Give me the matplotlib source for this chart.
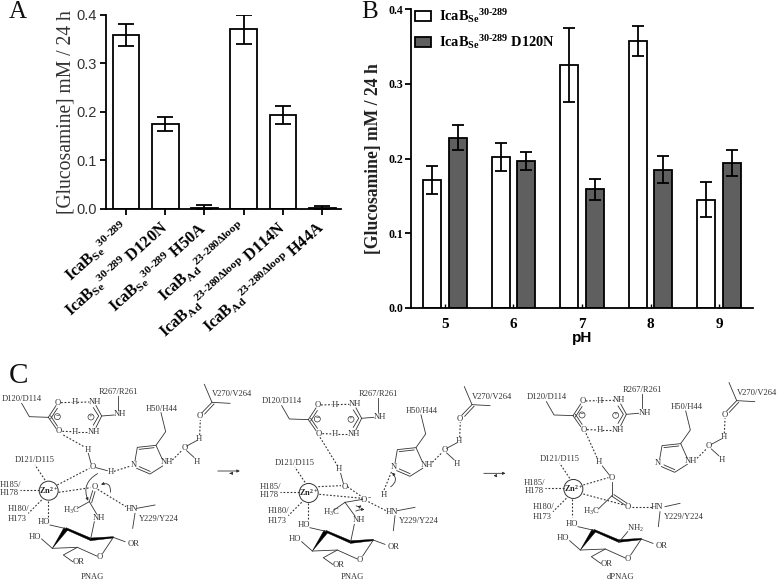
import matplotlib
matplotlib.use("Agg")
import matplotlib.pyplot as plt
from matplotlib.patches import Circle, FancyArrowPatch, Patch, Polygon

W, H = 778, 580
plt.rcParams["font.family"] = ["Liberation Serif", "DejaVu Sans"]
plt.rcParams["mathtext.fontset"] = "custom"
plt.rcParams["mathtext.rm"] = "Liberation Serif"
plt.rcParams["mathtext.default"] = "regular"

# panel A
a_labels = [r"IcaB$_{Se}$$^{30\text{-}289}$",
            r"IcaB$_{Se}$$^{30\text{-}289}$ D120N",
            r"IcaB$_{Se}$$^{30\text{-}289}$ H50A",
            r"IcaB$_{Ad}$$^{23\text{-}280\Delta loop}$",
            r"IcaB$_{Ad}$$^{23\text{-}280\Delta loop}$ D114N",
            r"IcaB$_{Ad}$$^{23\text{-}280\Delta loop}$ H44A"]
a_vals = [0.358, 0.175, 0.003, 0.370, 0.193, 0.002]
a_err = [0.023, 0.015, 0.006, 0.030, 0.019, 0.005]

# panel B
ph = ["5", "6", "7", "8", "9"]
wt_vals = [0.171, 0.202, 0.325, 0.357, 0.145]
wt_err = [0.019, 0.019, 0.049, 0.020, 0.023]
mut_vals = [0.228, 0.197, 0.159, 0.185, 0.194]
mut_err = [0.017, 0.012, 0.014, 0.018, 0.018]
y_ticks = [0.0, 0.1, 0.2, 0.3, 0.4]

# panel C, scheme geometry in 3x zoom units of the first structure
upper_solid = [
    [(65, 190), (88, 230), (145, 232)],
    [(145, 232), (168, 197)], [(152, 236), (172, 205)],
    [(145, 232), (168, 265)], [(152, 228), (172, 258)],
    [(288, 197), (305, 228), (288, 262)], [(280, 203), (296, 228), (280, 255)],
    [(305, 228), (342, 225)], [(353, 168), (353, 210)],
    [(405, 362), (412, 322), (468, 316), (487, 358)], [(418, 328), (462, 323)],
    [(468, 316), (497, 275), (483, 218)],
    [(410, 385), (450, 402), (488, 378)], [(418, 380), (450, 394)],
    [(560, 318), (590, 302)], [(560, 332), (582, 352)],
    [(606, 218), (636, 187)], [(614, 222), (642, 192)],
    [(613, 133), (636, 187), (690, 190)],
]
upper_dashed = [
    [(183, 188), (217, 187)], [(232, 187), (268, 186)],
    [(187, 274), (217, 275)], [(233, 275), (265, 275)],
    [(517, 360), (545, 332)], [(599, 285), (601, 240)],
    [(135, 420), (105, 375)], [(118, 450), (60, 450)],
    [(125, 480), (85, 520)], [(143, 482), (143, 535)],
]
upper_text = [
    ("D120/D114", 65, 176), ("R267/R261", 354, 156), ("H50/H44", 486, 206),
    ("V270/V264", 696, 163), ("O", 173, 188), ("H", 225, 187), ("NH", 284, 185),
    ("NH", 361, 223), ("O", 177, 274), ("H", 226, 275), ("NH", 281, 275),
    ("NH", 500, 367), ("O", 553, 323), ("H", 590, 365), ("H", 598, 297),
    ("O", 600, 229), ("N", 400, 375), ("D121/D115", 105, 361), ("H185/", 30, 434),
    ("H178", 28, 459), ("H180/", 55, 507), ("H173", 52, 536),
]
signs = [("−", 172, 230), ("+", 273, 231)]
zn = (146, 452)
ring_solid = [
    [(150, 555), (198, 566)], [(340, 592), (375, 605)], [(340, 592), (308, 640)],
    [(290, 648), (232, 622), (157, 625)], [(157, 625), (125, 597)],
    [(232, 622), (190, 645), (218, 665)],
]
ring_wedges = [
    [(157, 625), (192, 563), (204, 569)],
    [(198, 563), (198, 569), (272, 602), (272, 594)],
    [(272, 594), (272, 602), (340, 594), (340, 590)],
]
ring_text = [("HO", 132, 547), ("HO", 104, 590), ("OR", 400, 612), ("O", 300, 652), ("OR", 236, 666)]

# parts that differ between the three structures, each in its own zoom crop units
s1_solid = [[(265, 340), (273, 370)], [(288, 383), (322, 392)],
            [(268, 485), (232, 505)], [(268, 485), (290, 522)],
            [(268, 485), (278, 452)], [(275, 488), (285, 455)], [(283, 545), (272, 597)],
            [(410, 505), (465, 495)], [(405, 520), (398, 565)]]
s1_dashed = [[(190, 285), (252, 320)], [(342, 394), (392, 378)],
             [(172, 435), (268, 385)], [(176, 457), (272, 443)], [(293, 448), (378, 500)]]
s1_text = [("H", 263, 330), ("O", 278, 381), ("H", 332, 396), ("O", 283, 441),
           ("H$_3$C", 215, 510), ("NH", 298, 534), ("HN", 395, 508),
           ("Y229/Y224", 477, 536), ("PNAG", 278, 710)]
s1_curves = [((300, 397), (268, 490), 0.5), ((330, 465), (295, 436), 0.9)]
s1_eq = [((645, 393), (728, 393)), ((700, 400), (680, 400))]

s2_solid = [[(242, 400), (250, 430)], [(255, 487), (222, 510)], [(255, 487), (285, 528)],
            [(255, 487), (308, 478)], [(283, 553), (272, 605)],
            [(412, 512), (465, 502)], [(405, 527), (400, 572)]]
s2_dashed = [[(180, 292), (233, 378)], [(175, 440), (243, 437)], [(178, 463), (308, 475)],
             [(325, 485), (378, 512)], [(372, 450), (396, 392)], [(262, 440), (305, 470)]]
s2_text = [("H", 238, 388), ("O", 253, 442), ("O$^-$", 320, 476), ("H", 372, 466),
           ("H$_3$C", 215, 517), ("NH", 298, 541), ("HN", 395, 515),
           ("Y229/Y224", 477, 543), ("PNAG", 278, 710)]
s2_curves = [((385, 445), (390, 392), 0.7), ((282, 492), (310, 490), 0.6), ((280, 517), (322, 510), -0.2)]
s2_eq = [((663, 400), (745, 400)), ((715, 407), (692, 407))]

s3_solid = [[(277, 378), (298, 405)], [(305, 425), (305, 468)], [(305, 468), (265, 507)],
            [(305, 468), (345, 495)], [(312, 464), (350, 489)], [(353, 575), (328, 605)],
            [(465, 500), (510, 490)], [(450, 515), (445, 560)]]
s3_dashed = [[(228, 280), (262, 355)], [(220, 435), (295, 413)], [(220, 462), (342, 495)],
             [(365, 500), (425, 500)]]
s3_text = [("H", 267, 366), ("O", 304, 415), ("O", 353, 500), ("HN", 440, 500),
           ("H$_3$C", 245, 513), ("NH$_2$", 377, 565), ("Y229/Y224", 522, 532),
           ("dPNAG", 332, 711)]


def px_axes(fig, left, right, top, bottom):
    return fig.add_axes([left / W, 1 - bottom / H, (right - left) / W, (bottom - top) / H])


def style_axes(ax):
    for s in ("top", "right"):
        ax.spines[s].set_visible(False)
    for s in ("left", "bottom"):
        ax.spines[s].set_linewidth(1.3)


def draw_lines(ax, lines, ox, oy, dashed=False):
    for pts in lines:
        xs = [ox + p[0] / 3 for p in pts]
        ys = [oy + p[1] / 3 for p in pts]
        ax.plot(xs, ys, color="#333333", lw=0.8 if dashed else 0.6,
                ls=(0, (1.6, 1.6)) if dashed else "-")


def draw_text(ax, items, ox, oy, size=6.1):
    for s, x, y in items:
        ax.text(ox + x / 3, oy + y / 3, s, fontsize=size, ha="center", va="center",
                color="#333333")


def draw_common(ax, ox, oy, rx, ry):
    draw_lines(ax, upper_solid, ox, oy)
    draw_lines(ax, upper_dashed, ox, oy, dashed=True)
    draw_text(ax, upper_text, ox, oy)
    for s, x, y in signs:
        ax.add_patch(Circle((ox + x / 3, oy + y / 3), 3, fc="none", ec="#333333", lw=0.5))
        ax.text(ox + x / 3, oy + y / 3, s, fontsize=5, ha="center", va="center", color="#333333")
    ax.add_patch(Circle((ox + zn[0] / 3, oy + zn[1] / 3), 9.5, fc="none", ec="#333333", lw=0.7))
    ax.text(ox + zn[0] / 3, oy + zn[1] / 3, "Zn$^{2+}$", fontsize=6, weight="bold",
            ha="center", va="center", color="#222222")
    draw_lines(ax, ring_solid, rx, ry)
    draw_text(ax, ring_text, rx, ry)
    for pts in ring_wedges:
        ax.add_patch(Polygon([(rx + p[0] / 3, ry + p[1] / 3) for p in pts], fc="black", ec="black", lw=0.3))


def draw_curves(ax, curves, ox, oy):
    for a, b, rad in curves:
        ax.add_patch(FancyArrowPatch((ox + a[0] / 3, oy + a[1] / 3), (ox + b[0] / 3, oy + b[1] / 3),
                                     connectionstyle=f"arc3,rad={rad}", arrowstyle="-|>",
                                     mutation_scale=4, lw=0.6, color="#333333"))


def draw_eq(ax, arrows, ox, oy):
    for a, b in arrows:
        ax.add_patch(FancyArrowPatch((ox + a[0] / 3, oy + a[1] / 3), (ox + b[0] / 3, oy + b[1] / 3),
                                     arrowstyle="-|>", mutation_scale=4, lw=0.6, color="#333333"))


fig = plt.figure(figsize=(W / 100, H / 100), dpi=100)

# ── A ──
ax = px_axes(fig, 106, 341, 14.5, 209)
style_axes(ax)
ax.bar(range(6), a_vals, width=0.68, color="white", edgecolor="black", lw=1.3,
       yerr=a_err, ecolor="black", capsize=5.5, error_kw=dict(elinewidth=1.3, capthick=1.3))
ax.set_xlim(-0.51, 5.48)
ax.set_ylim(0, 0.4)
ax.set_yticks(y_ticks)
ax.set_yticklabels([f"{v:.1f}" for v in y_ticks], family="Liberation Sans", fontsize=10.5, color="#333333")
ax.set_xticks(range(6))
ax.set_xticklabels(a_labels, rotation=42, ha="right", va="center", rotation_mode="anchor",
                   fontsize=11.8, weight="bold")
ax.tick_params(axis="y", width=1.3, length=4.5, pad=2)
ax.tick_params(axis="x", width=1.3, length=4.5, pad=7)
ax.set_ylabel("[Glucosamine] mM / 24 h", fontsize=14.1, labelpad=1, color="#333333")

# ── B ──
ax = px_axes(fig, 411, 753, 9, 308)
style_axes(ax)
xs = range(len(ph))
ax.bar([x - 0.187 for x in xs], wt_vals, width=0.26, color="white", edgecolor="black", lw=1.3,
       yerr=wt_err, ecolor="black", capsize=4, error_kw=dict(elinewidth=1.3, capthick=1.3))
ax.bar([x + 0.187 for x in xs], mut_vals, width=0.26, color="#5f5f5f", edgecolor="black", lw=1.3,
       yerr=mut_err, ecolor="black", capsize=4, error_kw=dict(elinewidth=1.3, capthick=1.3))
ax.set_xlim(-0.496, 4.496)
ax.set_ylim(0, 0.4)
ax.set_yticks(y_ticks)
ax.set_yticklabels([f"{v:.1f}" for v in y_ticks], weight="bold", fontsize=8.5)
ax.set_xticks(list(xs))
ax.set_xticklabels(ph, weight="bold", fontsize=11)
ax.tick_params(axis="y", width=1.3, length=4, pad=1.5)
ax.tick_params(axis="x", direction="in", width=1.0, length=3, pad=7)
ax.set_xlabel("pH", family="Liberation Sans", weight="bold", fontsize=11, labelpad=0)
ax.set_ylabel("[Glucosamine] mM / 24 h", weight="bold", fontsize=12.7, labelpad=5, color="#222222")
ax.legend(handles=[Patch(fc="white", ec="black", lw=1.3, label=r"IcaB$_{Se}$$^{30\text{-}289}$"),
                   Patch(fc="#5f5f5f", ec="black", lw=1.3, label=r"IcaB$_{Se}$$^{30\text{-}289}$ D120N")],
          loc="upper left", bbox_to_anchor=(0.0, 1.02), frameon=False, prop=dict(weight="bold", size=10.4),
          handlelength=1.1, handleheight=0.7, handletextpad=0.55, labelspacing=0.55, borderaxespad=0.1,
          borderpad=0.2)

# ── C and panel letters, on one overlay in pixel units ──
ov = fig.add_axes([0, 0, 1, 1])
ov.set_xlim(0, W)
ov.set_ylim(H, 0)
ov.axis("off")
ov.patch.set_alpha(0)
ov.text(9, 12, "A", fontsize=18, va="center", ha="left", color="#111111")
ov.text(361, 12, "B", fontsize=18, va="center", ha="left", color="#111111")
ov.text(9, 376, "C", fontsize=21, va="center", ha="left", color="#111111")

draw_common(ov, 0, 340, 0, 340)
draw_lines(ov, s1_solid, 0, 340)
draw_lines(ov, s1_dashed, 0, 340, dashed=True)
draw_text(ov, s1_text, 0, 340)
draw_curves(ov, s1_curves, 0, 340)
draw_eq(ov, s1_eq, 0, 340)

draw_common(ov, 260, 342.3, 260, 342.7)
draw_lines(ov, s2_solid, 260, 340)
draw_lines(ov, s2_dashed, 260, 340, dashed=True)
draw_text(ov, s2_text, 260, 340)
draw_curves(ov, s2_curves, 260, 340)
draw_eq(ov, s2_eq, 260, 340)

draw_common(ov, 524.7, 338.3, 528, 341.7)
draw_lines(ov, s3_solid, 510, 340)
draw_lines(ov, s3_dashed, 510, 340, dashed=True)
draw_text(ov, s3_text, 510, 340)

fig.savefig("out.png", dpi=100)
